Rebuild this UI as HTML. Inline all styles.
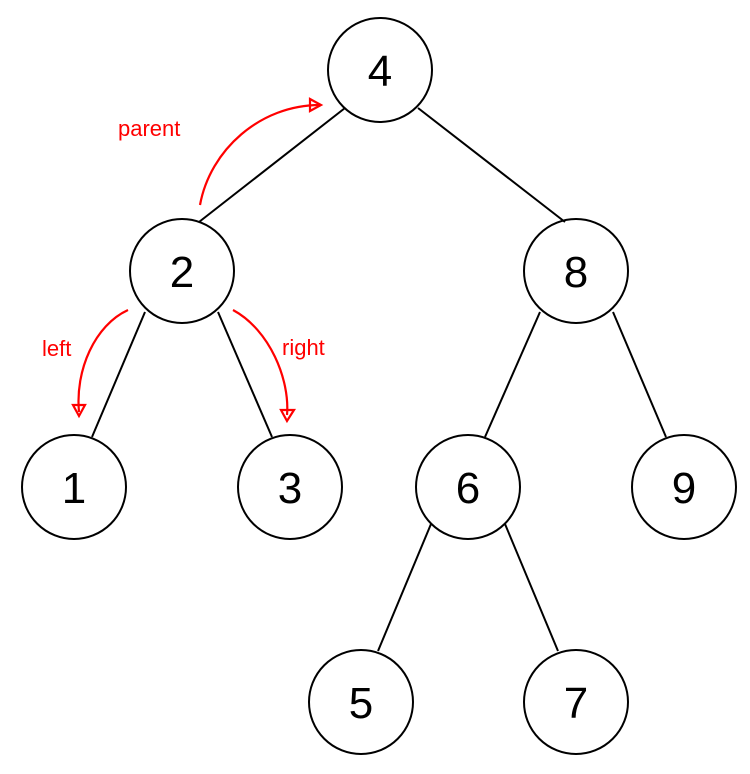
<!DOCTYPE html>
<html><head><meta charset="utf-8"><style>
html,body{margin:0;padding:0;background:#fff;}
svg{display:block}
</style></head><body>
<svg width="750" height="774" viewBox="0 0 750 774" xmlns="http://www.w3.org/2000/svg">
<g stroke="#000" stroke-width="2" fill="none">
<line x1="345" y1="108" x2="199" y2="222"/>
<line x1="418" y1="108" x2="565" y2="222"/>
<line x1="145" y1="312" x2="92" y2="437"/>
<line x1="218" y1="312" x2="272" y2="437"/>
<line x1="540" y1="312" x2="485" y2="437"/>
<line x1="613" y1="312" x2="666" y2="437"/>
<line x1="431" y1="524" x2="378" y2="651"/>
<line x1="505" y1="524" x2="558" y2="651"/>
<circle cx="380" cy="70" r="52"/>
<circle cx="182" cy="271" r="52"/>
<circle cx="576" cy="271" r="52"/>
<circle cx="74" cy="487" r="52"/>
<circle cx="290" cy="487" r="52"/>
<circle cx="468" cy="487" r="52"/>
<circle cx="684" cy="487" r="52"/>
<circle cx="361" cy="702" r="52"/>
<circle cx="576" cy="702" r="52"/>
</g>
<g font-family="Liberation Sans, sans-serif" font-size="44" text-anchor="middle" fill="#000">
<text x="380" y="86">4</text>
<text x="182" y="287">2</text>
<text x="576" y="287">8</text>
<text x="74" y="503">1</text>
<text x="290" y="503">3</text>
<text x="468" y="503">6</text>
<text x="684" y="503">9</text>
<text x="361" y="718">5</text>
<text x="576" y="718">7</text>
</g>
<g stroke="#f00" stroke-width="2.2" fill="none">
<path d="M200 205 C210 150 260 105 320 105"/>
<path d="M310 99 L321 105 L310 111 Z"/>
<path d="M128 310 C95 325 75 370 79 412"/>
<path d="M73 405 L79 416 L85 405 Z"/>
<path d="M233 310 C270 330 290 380 287 415"/>
<path d="M281 410 L287 421 L294 410 Z"/>
</g>
<g font-family="Liberation Sans, sans-serif" font-size="22" fill="#f00">
<text x="118" y="136">parent</text>
<text x="42" y="356">left</text>
<text x="282" y="355">right</text>
</g>
</svg>
</body></html>
